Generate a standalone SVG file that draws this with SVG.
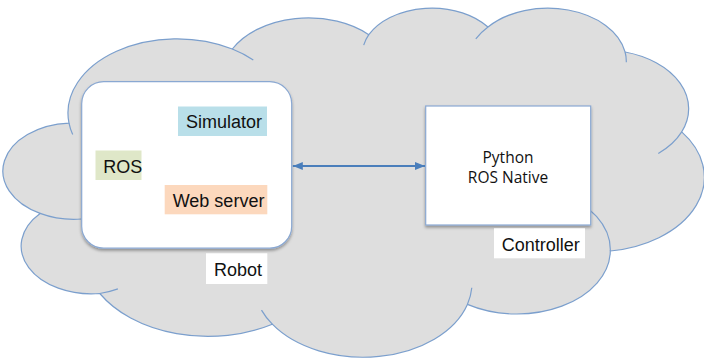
<svg xmlns="http://www.w3.org/2000/svg" width="704" height="360" viewBox="0 0 704 360">
  <defs>
    <filter id="shadow" x="-10%" y="-10%" width="120%" height="125%">
      <feDropShadow dx="0" dy="2" stdDeviation="1.5" flood-color="#000" flood-opacity="0.35"/>
    </filter>
    <marker id="arrow" viewBox="0 0 10 8" refX="10" refY="4" markerWidth="10" markerHeight="8" markerUnits="userSpaceOnUse" orient="auto-start-reverse">
      <path d="M0,0 L10,4 L0,8 z" fill="#4a7ebb"/>
    </marker>
  </defs>
  <style>
    .cloud { fill: #dedede; stroke: #7b9fcd; stroke-width: 1.2; }
    .stub { fill: none; stroke: #7b9fcd; stroke-width: 1.2; }
    .box { fill: #ffffff; stroke: #8aa8d2; stroke-width: 1.2; filter: url(#shadow); }
    .lbl { font-family: "Liberation Sans", Arial, sans-serif; font-size: 18px; fill: #111111; }
    .py { font-family: "Open Sans", "Liberation Sans", sans-serif; font-size: 15.5px; fill: #111111; text-anchor: middle; }
    .conn { stroke: #4a7ebb; stroke-width: 2; fill: none; }
  </style>

  <g id="cloud">
    <path class="cloud" d="M 69.0,123.1 A 109.1 74.2 0 0 1 232.3,49.0 A 86.2 58.7 0 0 1 368.8,34.7 A 70.5 48.0 0 0 1 488.0,27.0 A 78.5 53.3 0 0 1 625.1,52.0 A 86.2 58.8 0 0 1 681.7,131.9 A 109.5 74.5 0 0 1 610.3,251.0 A 93.5 63.6 0 0 1 467.4,304.4 A 109.1 74.4 0 0 1 272.3,324.2 A 124.7 85.2 0 0 1 99.8,293.5 A 70.4 47.8 0 0 1 40.1,213.4 A 70.2 48.0 0 0 1 69.0,123.1 Z"/>
    <path class="stub" d="M 81.5,219 A 70.2 48.0 0 0 1 40.1,213.4 M 117.9,288.9 A 70.4 47.8 0 0 1 99.8,293.5 M 272.3,324.2 A 109.1 74.4 0 0 1 261.5,310.1 M 471.8,287.8 A 109.1 74.4 0 0 1 467.4,304.4 M 557.4,192.4 A 93.5 63.6 0 0 1 610.3,251.0 M 681.7,131.9 A 86.2 58.8 0 0 1 658.3,153.5 M 625.1,52.0 A 78.5 53.3 0 0 1 626.3,62.2 M 475.8,38.9 A 78.5 53.3 0 0 1 488.0,27.0 M 363.7,45.1 A 70.5 48.0 0 0 1 368.8,34.7 M 232.3,49.0 A 109.1 74.2 0 0 1 253.3,59.9 M 72.7,134.6 A 109.1 74.2 0 0 1 69.0,123.1"/>
  </g>

  <g id="robot">
    <rect class="box" x="81.7" y="81.7" width="210" height="166.5" rx="22" ry="22"/>
    <rect x="178" y="106.5" width="89" height="29.5" fill="#b9dfe9"/>
    <text class="lbl" x="186" y="128.3">Simulator</text>
    <rect x="95.5" y="150.5" width="46" height="29.5" fill="#dfe7c8"/>
    <text class="lbl" x="103.3" y="173">ROS</text>
    <rect x="164.7" y="185" width="102.6" height="29.3" fill="#fcd8bd"/>
    <text class="lbl" x="172.7" y="207.3">Web server</text>
    <rect x="206" y="253.3" width="61.3" height="30.7" fill="#ffffff"/>
    <text class="lbl" x="214" y="276">Robot</text>
  </g>

  <g id="controller">
    <rect class="box" x="425.7" y="106" width="165" height="119"/>
    <text class="py" x="508" y="163">Python</text>
    <text class="py" x="508" y="183">ROS Native</text>
    <rect x="494" y="228.3" width="91" height="30" fill="#ffffff"/>
    <text class="lbl" x="501.7" y="250.5">Controller</text>
  </g>

  <g id="connectors">
    <line class="conn" x1="292.8" y1="166" x2="425" y2="166" marker-start="url(#arrow)" marker-end="url(#arrow)"/>
  </g>
</svg>
